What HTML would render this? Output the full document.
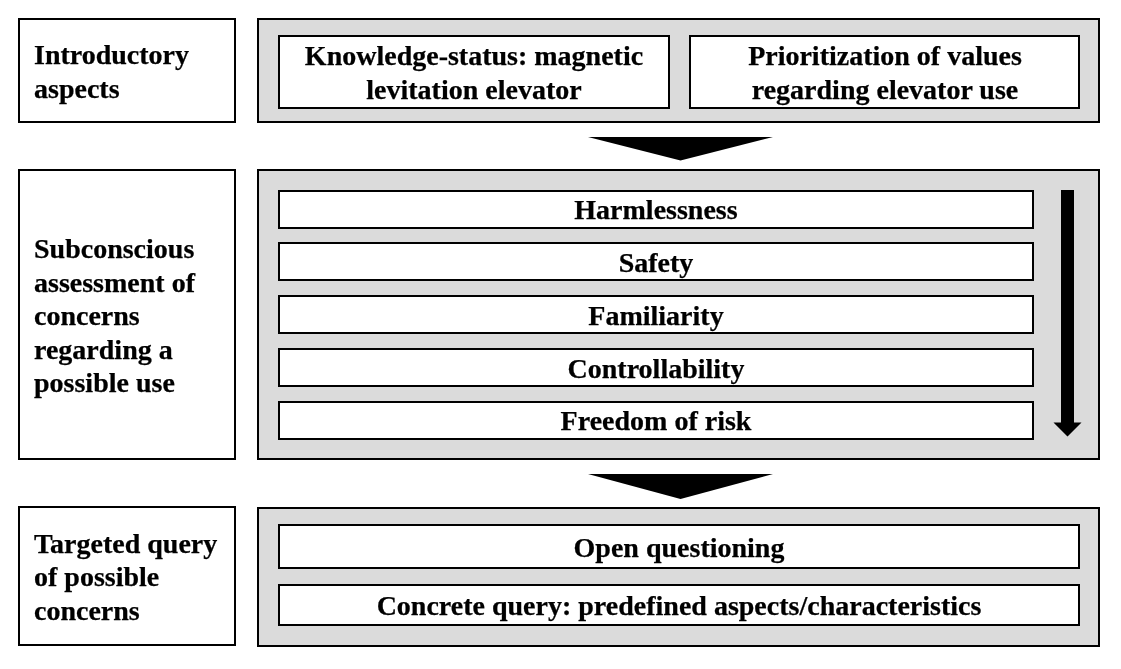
<!DOCTYPE html>
<html><head><meta charset="utf-8">
<title>Survey structure</title>
<style>
html,body{margin:0;padding:0;background:#fff;}
body{width:1121px;height:669px;position:relative;overflow:hidden;font-family:"Liberation Serif","Times New Roman",serif;font-weight:bold;font-size:28px;color:#000;}
.b{position:absolute;box-sizing:border-box;border:2px solid #000;background:#fff;}
.g{background:#dbdbdb;}
.t{-webkit-text-stroke:0.25px #000;position:absolute;line-height:32px;height:32px;white-space:nowrap;margin:0;will-change:transform;}
.c{transform:translateX(-50%);}
svg{position:absolute;left:0;top:0;}
</style></head><body>
<div class="b" style="left:18px;top:18px;width:218px;height:105px;"></div>
<div class="b g" style="left:257px;top:18px;width:843px;height:105px;"></div>
<div class="b" style="left:278px;top:35px;width:392px;height:74px;"></div>
<div class="b" style="left:689px;top:35px;width:391px;height:74px;"></div>
<div class="b" style="left:18px;top:169px;width:218px;height:291px;"></div>
<div class="b g" style="left:257px;top:169px;width:843px;height:291px;"></div>
<div class="b" style="left:278px;top:190px;width:756px;height:39px;"></div>
<div class="b" style="left:278px;top:242px;width:756px;height:39px;"></div>
<div class="b" style="left:278px;top:295px;width:756px;height:39px;"></div>
<div class="b" style="left:278px;top:348px;width:756px;height:39px;"></div>
<div class="b" style="left:278px;top:401px;width:756px;height:39px;"></div>
<div class="b" style="left:18px;top:506px;width:218px;height:140px;"></div>
<div class="b g" style="left:257px;top:507px;width:843px;height:140px;"></div>
<div class="b" style="left:278px;top:524px;width:802px;height:45px;"></div>
<div class="b" style="left:278px;top:584px;width:802px;height:42px;"></div>
<svg width="1121" height="669" viewBox="0 0 1121 669">
<polygon points="588,137 773,137 680.5,160.5" fill="#000"/>
<polygon points="588,474 773,474 680.5,499" fill="#000"/>
<polygon points="1061,190 1074,190 1074,422.5 1081.5,422.5 1067.5,436.5 1053.5,422.5 1061,422.5" fill="#000"/>
</svg>
<div class="t" style="left:33.75px;top:39px;">Introductory</div>
<div class="t" style="left:33.75px;top:73px;">aspects</div>
<div class="t c" style="left:474px;top:40px;">Knowledge-status: magnetic</div>
<div class="t c" style="left:474px;top:74px;">levitation elevator</div>
<div class="t c" style="left:884.5px;top:40px;">Prioritization of values</div>
<div class="t c" style="left:884.5px;top:74px;">regarding elevator use</div>
<div class="t" style="left:33.75px;top:233px;">Subconscious</div>
<div class="t" style="left:33.75px;top:267px;">assessment of</div>
<div class="t" style="left:33.75px;top:300px;">concerns</div>
<div class="t" style="left:33.75px;top:334px;">regarding a</div>
<div class="t" style="left:33.75px;top:367px;">possible use</div>
<div class="t c" style="left:656px;top:194px;">Harmlessness</div>
<div class="t c" style="left:656px;top:247px;">Safety</div>
<div class="t c" style="left:656px;top:300px;">Familiarity</div>
<div class="t c" style="left:656px;top:353px;">Controllability</div>
<div class="t c" style="left:656px;top:405px;">Freedom of risk</div>
<div class="t" style="left:33.75px;top:528px;">Targeted query</div>
<div class="t" style="left:33.75px;top:561px;">of possible</div>
<div class="t" style="left:33.75px;top:595px;">concerns</div>
<div class="t c" style="left:679px;top:532px;">Open questioning</div>
<div class="t c" style="left:679px;top:590px;">Concrete query: predefined aspects/characteristics</div>
</body></html>
